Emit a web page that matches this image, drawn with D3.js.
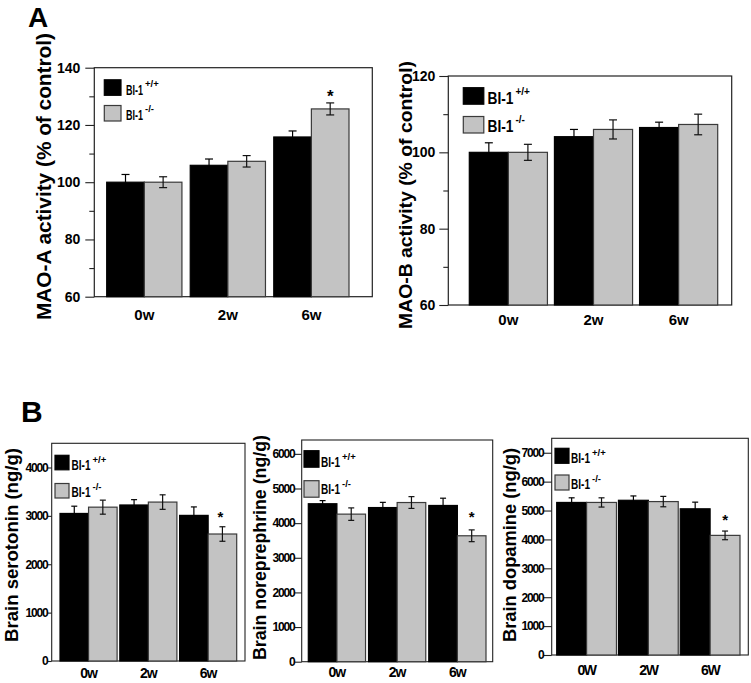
<!DOCTYPE html>
<html>
<head>
<meta charset="utf-8">
<script src="https://cdn.jsdelivr.net/npm/d3@7"></script>
<style>
  html, body { margin: 0; padding: 0; background: #fff; }
  svg { display: block; }
  text { font-family: "Liberation Sans", Arial, sans-serif; font-weight: bold; fill: #000; }
</style>
</head>
<body>
<svg id="chart" width="751" height="683"></svg>
<script>
// ---------------- DATA ----------------
const weeks = ["0w", "2w", "6w"];
const weeksUpper = ["0W", "2W", "6W"];
const seriesNames = ["BI-1", "BI-1"];
const seriesSup = ["+/+", "-/-"];

const maoA_wt = [100, 105.9, 115.8];
const maoA_wt_err = [2.7, 2.2, 2.1];
const maoA_ko = [100, 107.3, 125.6];
const maoA_ko_err = [1.9, 2.0, 2.1];

const maoB_wt = [100, 104.1, 106.5];
const maoB_wt_err = [2.5, 1.9, 1.4];
const maoB_ko = [100, 106.0, 107.3];
const maoB_ko_err = [2.1, 2.5, 2.7];

const sero_wt = [3050, 3225, 3010];
const sero_wt_err = [150, 110, 175];
const sero_ko = [3180, 3285, 2625];
const sero_ko_err = [145, 150, 150];

const ne_wt = [4560, 4450, 4510];
const ne_wt_err = [90, 150, 210];
const ne_ko = [4260, 4595, 3635];
const ne_ko_err = [180, 170, 170];

const da_wt = [5280, 5355, 5060];
const da_wt_err = [160, 150, 230];
const da_ko = [5280, 5310, 4140];
const da_ko_err = [160, 180, 150];

const ticksA = [60, 80, 100, 120, 140];
const minorA = [70, 90, 110, 130];
const ticksAB = [60, 80, 100, 120];
const minorAB = [70, 90, 110];
const ticksSero = [0, 1000, 2000, 3000, 4000];
const ticksNE = [0, 1000, 2000, 3000, 4000, 5000, 6000];
const ticksDA = [0, 1000, 2000, 3000, 4000, 5000, 6000, 7000];

// significance flags (KO at 6w)
const sigA = [false, false, true];
const sigB = [false, false, false];
const sigSero = [false, false, true];
const sigNE = [false, false, true];
const sigDA = [false, false, true];

// ---------------- DRAW ----------------
const svg = d3.select("#chart");
const BLACK = "#000000", GRAY = "#c3c3c3", GRAY_STROKE = "#3a3a3a";

function panel(c) {
  const g = svg.append("g");
  const y = d3.scaleLinear().domain(c.domain).range([c.bottom, c.top]);
  const W = c.barR - c.barL;
  const p = 3 * c.gap / (W + c.gap);
  const x0 = d3.scaleBand().domain(c.cats).range([c.barL, c.barR]).paddingInner(p).paddingOuter(0);
  const x1 = d3.scaleBand().domain([0, 1]).range([0, x0.bandwidth()]);

  // frame
  g.append("rect").attr("x", c.left).attr("y", c.top)
    .attr("width", c.right - c.left).attr("height", c.bottom - c.top)
    .attr("fill", "none").attr("stroke", "#222").attr("stroke-width", c.frameW || 1.2);

  // bars
  const series = [
    { vals: c.wt, err: c.wtErr, fill: BLACK, stroke: BLACK },
    { vals: c.ko, err: c.koErr, fill: GRAY, stroke: GRAY_STROKE }
  ];
  series.forEach((s, si) => {
    g.selectAll(null).data(c.cats).enter().append("rect")
      .attr("x", (d) => x0(d) + x1(si))
      .attr("y", (d, i) => y(s.vals[i]))
      .attr("width", x1.bandwidth())
      .attr("height", (d, i) => y(c.domain[0]) - y(s.vals[i]))
      .attr("fill", s.fill).attr("stroke", s.stroke).attr("stroke-width", 1.2);
  });
  // error bars
  series.forEach((s, si) => {
    c.cats.forEach((d, i) => {
      const cx = x0(d) + x1(si) + x1.bandwidth() / 2;
      const yt = y(s.vals[i] + s.err[i]);
      const yb = y(s.vals[i] - s.err[i]);
      const col = si === 0 ? "#000" : "#111";
      g.append("line").attr("x1", cx).attr("x2", cx).attr("y1", yt).attr("y2", yb)
        .attr("stroke", col).attr("stroke-width", 1.2);
      [yt, yb].forEach(yy => g.append("line").attr("x1", cx - c.cap).attr("x2", cx + c.cap)
        .attr("y1", yy).attr("y2", yy).attr("stroke", col).attr("stroke-width", 1.2));
      if (si === 1 && c.sig[i]) {
        g.append("text").attr("x", cx + (c.starDx || 0)).attr("y", yt - c.starGap)
          .attr("text-anchor", "middle").style("font-size", c.starSize + "px").text("*");
      }
    });
  });

  // y axis
  const ax = d3.axisLeft(y).tickValues(c.ticks).tickSize(c.tickLen).tickPadding(c.tickPad)
    .tickFormat(d3.format("d"));
  const axG = g.append("g").attr("transform", `translate(${c.left},0)`).call(ax);
  axG.select(".domain").remove();
  axG.selectAll(".tick line").attr("stroke", "#222").attr("stroke-width", 1.1);
  axG.selectAll(".tick text").style("font-size", c.tickFont + "px")
    .style("letter-spacing", (c.tickLS || 0) + "px")
    .style("font-family", '"Liberation Sans", Arial, sans-serif').style("font-weight", "bold").attr("fill", "#000");
  if (c.minor) {
    const mx = d3.axisLeft(y).tickValues(c.minor).tickSize(c.minorLen).tickFormat("");
    const mG = g.append("g").attr("transform", `translate(${c.left},0)`).call(mx);
    mG.select(".domain").remove();
    mG.selectAll(".tick line").attr("stroke", "#222").attr("stroke-width", 1.1);
  }

  // x labels
  c.cats.forEach((d, i) => {
    g.append("text").attr("x", x0(d) + x0.bandwidth() / 2).attr("y", c.xlabY)
      .attr("text-anchor", "middle").style("font-size", c.xFont + "px")
      .style("letter-spacing", (c.xLS || 0) + "px").text(c.labels[i]);
  });

  // y title
  g.append("text").attr("transform", `translate(${c.titleX},${c.titleY}) rotate(-90)`)
    .attr("text-anchor", "middle").attr("dominant-baseline", "central")
    .style("font-size", c.titleFont + "px")
    .attr("textLength", c.titleLen).attr("lengthAdjust", "spacingAndGlyphs")
    .text(c.title);

  // legend (name text horizontally condensed with a scale transform)
  c.leg.forEach((L, li) => {
    g.append("rect").attr("x", c.legX).attr("y", L.y).attr("width", c.legW).attr("height", c.legH)
      .attr("fill", li === 0 ? BLACK : GRAY).attr("stroke", li === 0 ? BLACK : GRAY_STROKE).attr("stroke-width", 1.2);
    const t = g.append("text").attr("x", 0).attr("y", 0).style("font-size", c.legFont + "px").text(seriesNames[li]);
    const nat = t.node().getComputedTextLength();
    const sx = c.legLen / nat;
    t.attr("transform", `translate(${c.legTX},${L.base}) scale(${sx},1)`);
    g.append("text").attr("x", c.legTX + c.legLen + 2).attr("y", L.base - c.supUp)
      .style("font-size", c.supFont + "px").text(seriesSup[li]);
  });
}

// Panel letters
svg.append("text").attr("x", 28).attr("y", 27).style("font-size", "28px").text("A");
svg.append("text").attr("x", 21).attr("y", 421.5).style("font-size", "30px").text("B");

// A left: MAO-A
panel({
  cats: weeks, labels: weeks, domain: [60, 140],
  left: 94.3, right: 372.3, top: 67.7, bottom: 296.7,
  barL: 106.7, barR: 349, gap: 8.3, cap: 4,
  wt: maoA_wt, wtErr: maoA_wt_err, ko: maoA_ko, koErr: maoA_ko_err,
  sig: sigA, starGap: 1, starSize: 17,
  ticks: ticksA, minor: minorA, tickLen: 9, minorLen: 5, tickPad: 5, tickFont: 14,
  xlabY: 320, xFont: 15,
  title: "MAO-A activity (% of control)", titleX: 44, titleY: 176.5, titleFont: 19.5, titleLen: 287,
  legX: 104.3, legW: 16.7, legH: 15.5, legTX: 126, legFont: 15, legLen: 17, supFont: 9.5, supUp: 8,
  leg: [{ y: 79.8, base: 94.5 }, { y: 105.5, base: 120 }]
});

// A right: MAO-B
panel({
  cats: weeks, labels: weeks, domain: [60, 120],
  left: 448.3, right: 731.7, top: 76, bottom: 305,
  barL: 469.3, barR: 717.7, gap: 7, cap: 4,
  wt: maoB_wt, wtErr: maoB_wt_err, ko: maoB_ko, koErr: maoB_ko_err,
  sig: sigB, starGap: 1, starSize: 17,
  ticks: ticksAB, minor: minorAB, tickLen: 9, minorLen: 5, tickPad: 4, tickFont: 14,
  xlabY: 325, xFont: 15,
  title: "MAO-B activity (% of control)", titleX: 405, titleY: 195, titleFont: 18.5, titleLen: 268,
  legX: 463.3, legW: 20.5, legH: 16.5, legTX: 487.5, legFont: 16, legLen: 26, supFont: 10, supUp: 9,
  leg: [{ y: 87.7, base: 103.5 }, { y: 116.5, base: 132 }]
});

// B1: serotonin
panel({
  cats: weeks, labels: weeks, domain: [0, 4500],
  left: 51.7, right: 245, top: 443.3, bottom: 661, frameW: 1.1,
  barL: 60, barR: 236.7, gap: 2.7, cap: 3,
  wt: sero_wt, wtErr: sero_wt_err, ko: sero_ko, koErr: sero_ko_err,
  sig: sigSero, starGap: 5, starSize: 15, starDx: -2,
  ticks: ticksSero, tickLen: 4, tickPad: 0, tickFont: 12, tickLS: -1.1,
  xlabY: 678, xFont: 14, xLS: -1,
  title: "Brain serotonin (ng/g)", titleX: 12, titleY: 545, titleFont: 18, titleLen: 194,
  legX: 55, legW: 14, legH: 14.5, legTX: 71.5, legFont: 15, legLen: 19, supFont: 9.5, supUp: 7,
  leg: [{ y: 455.3, base: 469.5 }, { y: 483.5, base: 496.5 }]
});

// B2: norepinephrine
panel({
  cats: weeks, labels: weeks, domain: [0, 6400],
  left: 301.7, right: 492.7, top: 440, bottom: 661.7, frameW: 1.1,
  barL: 308.3, barR: 486, gap: 3, cap: 3,
  wt: ne_wt, wtErr: ne_wt_err, ko: ne_ko, koErr: ne_ko_err,
  sig: sigNE, starGap: 8, starSize: 15,
  ticks: ticksNE, tickLen: 7, tickPad: 0, tickFont: 12, tickLS: -1.1,
  xlabY: 677, xFont: 14, xLS: -1,
  title: "Brain noreprephrine (ng/g)", titleX: 260, titleY: 547.5, titleFont: 18, titleLen: 225,
  legX: 304, legW: 15, legH: 16.5, legTX: 321, legFont: 15, legLen: 19, supFont: 9.5, supUp: 7,
  leg: [{ y: 450.7, base: 466.5 }, { y: 480.7, base: 494 }]
});

// B3: dopamine
panel({
  cats: weeksUpper, labels: weeksUpper, domain: [0, 7500],
  left: 551.7, right: 748.3, top: 438.3, bottom: 655, frameW: 1.1,
  barL: 556.7, barR: 740, gap: 2, cap: 3,
  wt: da_wt, wtErr: da_wt_err, ko: da_ko, koErr: da_ko_err,
  sig: sigDA, starGap: 6, starSize: 15,
  ticks: ticksDA, tickLen: 8, tickPad: 0, tickFont: 12, tickLS: -1.1,
  xlabY: 675, xFont: 14, xLS: -1.3,
  title: "Brain dopamine (ng/g)", titleX: 510, titleY: 545, titleFont: 18, titleLen: 194,
  legX: 555, legW: 14, legH: 15, legTX: 571, legFont: 15, legLen: 19, supFont: 9.5, supUp: 7,
  leg: [{ y: 448.3, base: 463.3 }, { y: 475, base: 489.3 }]
});
</script>
</body>
</html>
